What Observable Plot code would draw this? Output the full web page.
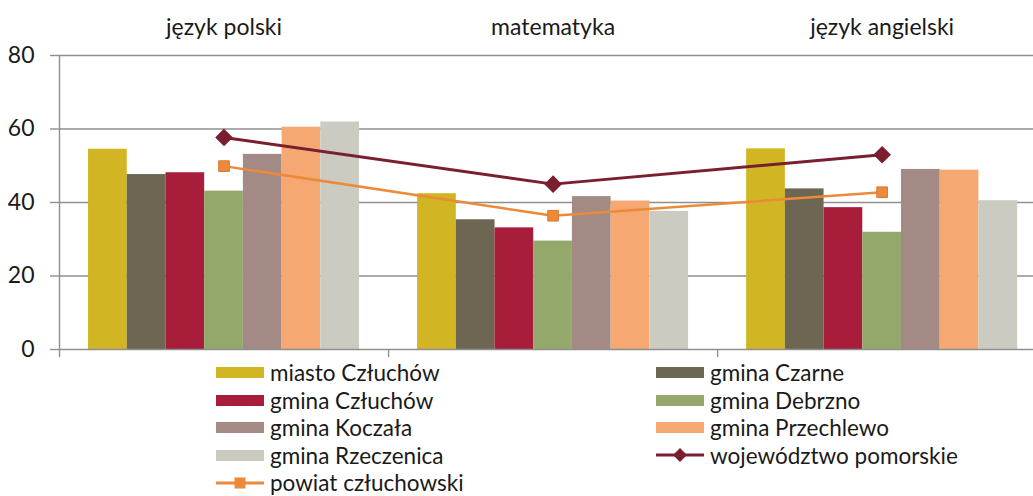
<!DOCTYPE html>
<html>
<head>
<meta charset="utf-8">
<script src="https://cdn.jsdelivr.net/npm/d3@7"></script>
<script src="https://cdn.jsdelivr.net/npm/@observablehq/plot@0.6"></script>
<style>
  html, body { margin: 0; padding: 0; background: #fff; }
  body { width: 1033px; height: 496px; overflow: hidden; font-family: "Lato", "Open Sans", sans-serif; }
  #legend { display: grid; grid-template-columns: 440px 370px; padding-left: 216px; margin-top: -5px; }
  .item { display: flex; align-items: center; height: 27.5px; font-size: 22.5px; color: #1a1a1a; white-space: nowrap; }
  .sw { width: 48px; height: 11px; margin-right: 6px; flex: none; }
  .swl { width: 48px; height: 16px; margin-right: 6px; flex: none; }
</style>
</head>
<body>
<div id="chart"></div>
<div id="legend"></div>
<script>
// --- data ---
const subjects = ["język polski", "matematyka", "język angielski"];
const series = ["miasto Człuchów", "gmina Czarne", "gmina Człuchów", "gmina Debrzno", "gmina Koczała", "gmina Przechlewo", "gmina Rzeczenica"];
const colors = ["#d2b523", "#6c6652", "#a81e3a", "#95a86c", "#a38a84", "#f5a871", "#cbcbc2"];
const miastoCzluchow = [54.5, 42.4, 54.6];
const gminaCzarne = [47.6, 35.3, 43.7];
const gminaCzluchow = [48.1, 33.1, 38.6];
const gminaDebrzno = [43.1, 29.5, 31.9];
const gminaKoczala = [53.1, 41.6, 49.0];
const gminaPrzechlewo = [60.5, 40.4, 48.8];
const gminaRzeczenica = [61.9, 37.6, 40.5];
const seriesValues = [miastoCzluchow, gminaCzarne, gminaCzluchow, gminaDebrzno, gminaKoczala, gminaPrzechlewo, gminaRzeczenica];
const lineNames = ["województwo pomorskie", "powiat człuchowski"];
const lineColors = ["#7a1f30", "#ec8a3a"];
const wojewodztwo = [57.7, 45.0, 53.0];
const powiat = [49.9, 36.4, 42.8];
const yTicks = [0, 20, 40, 60, 80];

// --- derived tables ---
const nBars = series.length;
const slot = 1 / (nBars + 1.5); // Excel gap width 150%
const bars = [];
series.forEach((s, i) => {
  subjects.forEach((subj, k) => {
    bars.push({series: s, subject: subj, value: seriesValues[i][k],
      x1: k + (i - nBars / 2) * slot, x2: k + (i + 1 - nBars / 2) * slot});
  });
});
const woj = subjects.map((s, k) => ({k, value: wojewodztwo[k]}));
const pow = subjects.map((s, k) => ({k, value: powiat[k]}));

const chart = Plot.plot({
  width: 1033,
  height: 364,
  marginLeft: 59,
  marginRight: 0,
  marginTop: 55,
  marginBottom: 15,
  style: {fontFamily: "Lato, 'Open Sans', sans-serif", background: "#fff", color: "#1a1a1a"},
  x: {domain: [-0.5, 2.46], axis: null, label: null},
  y: {domain: [0, 80], axis: null, label: null},
  color: {domain: series, range: colors},
  marks: [
    Plot.ruleY([20, 40, 60, 80], {stroke: "#8f8f8f", strokeWidth: 1.4}),
    Plot.axisY({ticks: yTicks, label: null, tickSize: 9, tickPadding: 16, fontSize: 23, stroke: "#8f8f8f", strokeWidth: 1.4, fill: "#1a1a1a"}),
    Plot.axisX({anchor: "top", label: null, ticks: [0, 1, 2], tickSize: 0, tickPadding: 21, fontSize: 23, tickFormat: i => subjects[i], fill: "#1a1a1a"}),
    Plot.axisX({anchor: "bottom", label: null, ticks: [0.5, 1.5], tickSize: 8, tickFormat: () => "", stroke: "#8f8f8f", strokeWidth: 1.4}),
    Plot.rectY(bars, {x1: "x1", x2: "x2", y1: 0, y2: "value", fill: "series"}),
    Plot.ruleY([0], {stroke: "#8f8f8f", strokeWidth: 1.6}),
    Plot.ruleX([-0.5], {stroke: "#8f8f8f", strokeWidth: 1.4, insetBottom: -8}),
    Plot.line(pow, {x: "k", y: "value", stroke: lineColors[1], strokeWidth: 2.5}),
    Plot.dot(pow, {x: "k", y: "value", symbol: "square", r: 6, fill: lineColors[1], stroke: "#d97a2e", strokeWidth: 1}),
    Plot.line(woj, {x: "k", y: "value", stroke: lineColors[0], strokeWidth: 3}),
    Plot.dot(woj, {x: "k", y: "value", symbol: "diamond2", r: 7, fill: lineColors[0], stroke: lineColors[0]})
  ]
});
document.getElementById("chart").appendChild(chart);

// --- legend ---
const legend = document.getElementById("legend");
const items = series.map((s, i) => ({name: s, color: colors[i], type: "bar"}))
  .concat(lineNames.map((n, i) => ({name: n, color: lineColors[i], type: i === 0 ? "diamond" : "square"})));
items.forEach(it => {
  const div = document.createElement("div");
  div.className = "item";
  if (it.type === "bar") {
    const sw = document.createElement("span");
    sw.className = "sw";
    sw.style.background = it.color;
    div.appendChild(sw);
  } else {
    const ns = "http://www.w3.org/2000/svg";
    const svg = document.createElementNS(ns, "svg");
    svg.setAttribute("class", "swl");
    svg.setAttribute("width", 48); svg.setAttribute("height", 16);
    const ln = document.createElementNS(ns, "line");
    ln.setAttribute("x1", 0); ln.setAttribute("x2", 48); ln.setAttribute("y1", 8); ln.setAttribute("y2", 8);
    ln.setAttribute("stroke", it.color); ln.setAttribute("stroke-width", 3);
    svg.appendChild(ln);
    const m = document.createElementNS(ns, "path");
    m.setAttribute("d", it.type === "diamond" ? "M24,1L31,8L24,15L17,8Z" : "M18.5,2.5H29.5V13.5H18.5Z");
    m.setAttribute("fill", it.color);
    svg.appendChild(m);
    div.appendChild(svg);
  }
  const t = document.createElement("span");
  t.textContent = it.name;
  div.appendChild(t);
  legend.appendChild(div);
});
</script>
</body>
</html>
